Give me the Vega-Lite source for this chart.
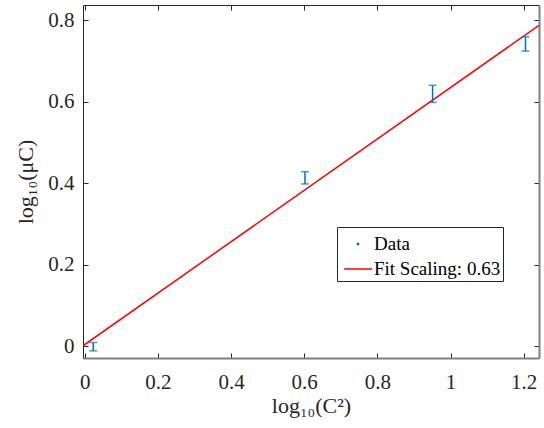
{
  "$schema": "https://vega.github.io/schema/vega-lite/v6.json",
  "width": 456,
  "height": 353,
  "autosize": {"type": "none"},
  "padding": {"left": 83, "top": 5, "right": 5, "bottom": 70},
  "background": "white",
  "config": {
    "font": "Liberation Serif",
    "view": {"stroke": null},
    "axis": {
      "grid": false,
      "labelFont": "Liberation Serif",
      "labelFontSize": 21,
      "labelColor": "#262626",
      "titleFont": "Liberation Serif",
      "titleFontSize": 22,
      "titleFontWeight": "normal",
      "titleColor": "#262626",
      "tickSize": -5,
      "tickColor": "#262626",
      "tickWidth": 1,
      "domainColor": "#262626",
      "domainWidth": 1
    },
    "legend": {
      "orient": "none",
      "legendX": 254,
      "legendY": 222,
      "strokeColor": "#262626",
      "fillColor": "white",
      "padding": 2,
      "labelFont": "Liberation Serif",
      "labelFontSize": 19,
      "labelColor": "#000000",
      "labelOffset": 5,
      "symbolStrokeWidth": 1.5,
      "symbolSize": 100,
      "rowPadding": 0
    }
  },
  "datasets": {
    "points": [
      {"C2": 0.023, "mu": -0.001, "lo": -0.0115, "hi": 0.009},
      {"C2": 0.602, "mu": 0.413, "lo": 0.398, "hi": 0.428},
      {"C2": 0.951, "mu": 0.619, "lo": 0.598, "hi": 0.640},
      {"C2": 1.205, "mu": 0.741, "lo": 0.724, "hi": 0.759}
    ],
    "fit": [
      {"C2": -0.005, "mu": 0.001, "series": "Fit Scaling: 0.63"},
      {"C2": 1.242, "mu": 0.787, "series": "Fit Scaling: 0.63"}
    ]
  },
  "layer": [
    {
      "data": {"name": "fit"},
      "mark": {"type": "line", "strokeWidth": 1.5, "clip": true},
      "encoding": {
        "x": {
          "field": "C2", "type": "quantitative",
          "scale": {"domain": [-0.005, 1.242], "nice": false, "zero": false},
          "axis": {"orient": "bottom", "values": [0, 0.2, 0.4, 0.6, 0.8, 1, 1.2], "format": "~g", "title": "log₁₀(C²)", "domainColor": "#808080", "domainWidth": 2, "labelPadding": 18, "titlePadding": 3, "labelFlush": false}
        },
        "y": {
          "field": "mu", "type": "quantitative",
          "scale": {"domain": [-0.029, 0.837], "nice": false, "zero": false},
          "axis": {"orient": "left", "values": [0, 0.2, 0.4, 0.6, 0.8], "format": "~g", "title": "log₁₀(μC)", "labelPadding": 14, "titlePadding": 10, "labelFlush": false}
        },
        "color": {
          "field": "series", "type": "nominal",
          "scale": {"domain": ["Data", "Fit Scaling: 0.63"], "range": ["#0072BD", "#FF0000"]},
          "legend": {
            "title": null,
            "symbolType": "stroke",
            "labelExpr": "datum.label + '\u00a0\u00a0\u00a0'",
            "encode": {
              "symbols": {
                "update": {
                  "x": {"value": 19},
                  "shape": {"signal": "datum.value === 'Data' ? 'circle' : 'stroke'"},
                  "size": {"signal": "datum.value === 'Data' ? 2 : 784"},
                  "fill": {"signal": "datum.value === 'Data' ? '#0072BD' : 'transparent'"}
                }
              }
            }
          }
        }
      }
    },
    {
      "data": {"name": "points"},
      "mark": {"type": "rule", "color": "#0072BD", "strokeWidth": 1.5},
      "encoding": {
        "x": {
          "field": "C2", "type": "quantitative",
          "axis": {"orient": "top", "values": [0, 0.2, 0.4, 0.6, 0.8, 1, 1.2], "labels": false, "title": null, "domainColor": "#262626"}
        },
        "y": {
          "field": "lo", "type": "quantitative",
          "axis": {"orient": "right", "values": [0, 0.2, 0.4, 0.6, 0.8], "labels": false, "title": null, "domainColor": "#808080", "domainWidth": 2}
        },
        "y2": {"field": "hi"}
      }
    },
    {
      "data": {"name": "points"},
      "mark": {"type": "tick", "orient": "horizontal", "color": "#0072BD", "size": 8, "thickness": 1.5},
      "encoding": {
        "x": {"field": "C2", "type": "quantitative", "axis": null},
        "y": {"field": "lo", "type": "quantitative", "axis": null}
      }
    },
    {
      "data": {"name": "points"},
      "mark": {"type": "tick", "orient": "horizontal", "color": "#0072BD", "size": 8, "thickness": 1.5},
      "encoding": {
        "x": {"field": "C2", "type": "quantitative", "axis": null},
        "y": {"field": "hi", "type": "quantitative", "axis": null}
      }
    }
  ],
  "resolve": {"axis": {"x": "independent", "y": "independent"}}
}
